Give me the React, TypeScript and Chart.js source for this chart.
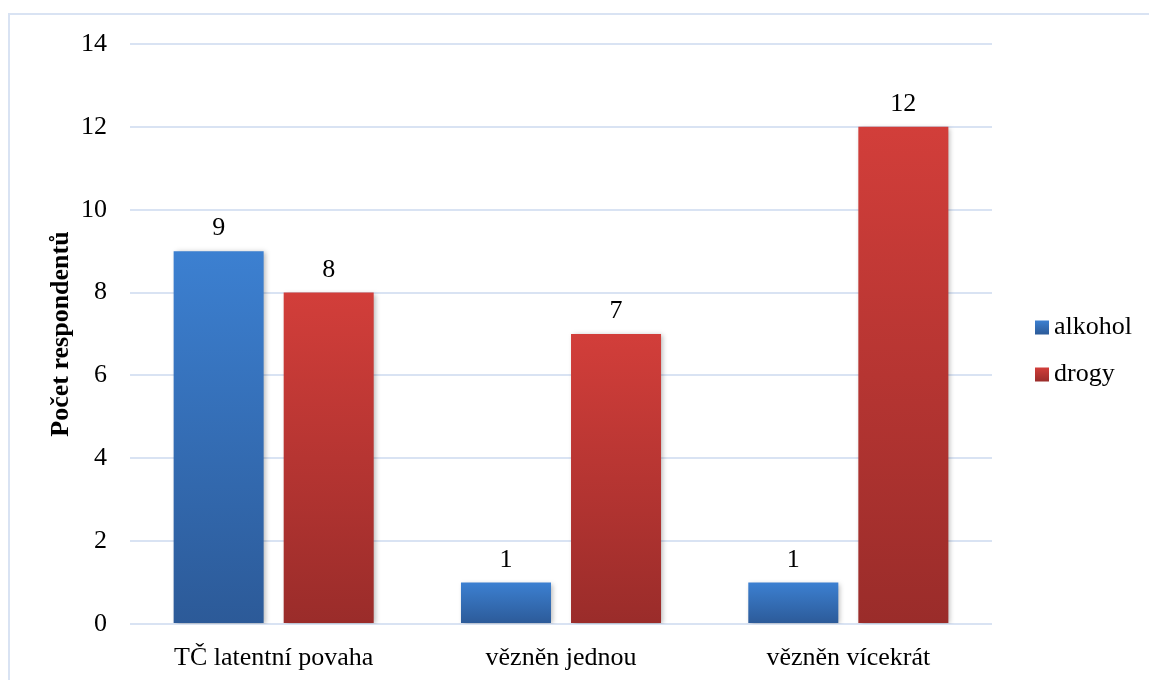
import { useEffect, useRef } from "react";
import { Chart, registerables } from "chart.js";

Chart.register(...registerables);

// Data
const categories = ["TČ latentní povaha", "vězněn jednou", "vězněn vícekrát"];
const seriesNames = ["alkohol", "drogy"];
const alkoholValues = [9, 1, 1];
const drogyValues = [8, 7, 12];
const yMin = 0;
const yMax = 14;
const yStep = 2;
const yTitle = "Počet respondentů";

// Styles
const FONT = "'Liberation Serif', 'Times New Roman', serif";
const GRID = "#d9e3f3";
const BLUE_TOP = "#3c80d1";
const BLUE_BOTTOM = "#2c5a98";
const RED_TOP = "#d23e3a";
const RED_BOTTOM = "#9a2c2a";

function barGradient(top: string, bottom: string) {
  return (ctx: any) => {
    const chart = ctx.chart;
    if (!chart.chartArea || ctx.type !== "data" || !chart.scales.y) return top;
    const y = chart.scales.y;
    const y0 = y.getPixelForValue(ctx.raw);
    const y1 = y.getPixelForValue(0);
    if (!isFinite(y0) || !isFinite(y1) || y0 === y1) return top;
    const g = chart.ctx.createLinearGradient(0, y0, 0, y1);
    g.addColorStop(0, top);
    g.addColorStop(1, bottom);
    return g;
  };
}

const frame = {
  id: "frame",
  beforeDraw(chart: any) {
    const c = chart.ctx;
    c.save();
    c.strokeStyle = GRID;
    c.lineWidth = 2;
    c.beginPath();
    c.moveTo(9, chart.height + 2);
    c.lineTo(9, 14);
    c.lineTo(chart.width + 2, 14);
    c.stroke();
    c.restore();
  },
};

const barShadow = {
  id: "barShadow",
  beforeDatasetDraw(chart: any) {
    const c = chart.ctx;
    c.save();
    c.shadowColor = "rgba(0,0,0,0.28)";
    c.shadowBlur = 5;
    c.shadowOffsetX = 2;
    c.shadowOffsetY = 1;
  },
  afterDatasetDraw(chart: any) {
    chart.ctx.restore();
  },
};

const valueLabels = {
  id: "valueLabels",
  afterDatasetsDraw(chart: any) {
    const c = chart.ctx;
    c.save();
    c.font = `26px ${FONT}`;
    c.fillStyle = "#000";
    c.textAlign = "center";
    c.textBaseline = "alphabetic";
    chart.data.datasets.forEach((ds: any, i: number) => {
      const meta = chart.getDatasetMeta(i);
      meta.data.forEach((el: any, j: number) => {
        c.fillText(String(ds.data[j]), el.x, el.y - 16);
      });
    });
    c.restore();
  },
};

const sideLegend = {
  id: "sideLegend",
  afterDraw(chart: any) {
    const c = chart.ctx;
    const area = chart.chartArea;
    const colors = [
      [BLUE_TOP, BLUE_BOTTOM],
      [RED_TOP, RED_BOTTOM],
    ];
    const x = area.right + 43;
    const mid = (area.top + area.bottom) / 2 + 17;
    const gap = 47;
    c.save();
    c.font = `26px ${FONT}`;
    c.fillStyle = "#000";
    c.textBaseline = "middle";
    c.textAlign = "left";
    chart.data.datasets.forEach((ds: any, i: number) => {
      const cy = mid + (i - (chart.data.datasets.length - 1) / 2) * gap;
      const g = c.createLinearGradient(0, cy - 7, 0, cy + 7);
      g.addColorStop(0, colors[i][0]);
      g.addColorStop(1, colors[i][1]);
      c.fillStyle = g;
      c.fillRect(x, cy - 7, 14, 14);
      c.fillStyle = "#000";
      c.fillText(ds.label, x + 19, cy);
    });
    c.restore();
  },
};

export default function App() {
  const ref = useRef<HTMLCanvasElement | null>(null);

  useEffect(() => {
    if (!ref.current) return;
    const chart = new Chart(ref.current, {
      type: "bar",
      data: {
        labels: categories,
        datasets: [
          {
            label: seriesNames[0],
            data: alkoholValues,
            backgroundColor: barGradient(BLUE_TOP, BLUE_BOTTOM),
            categoryPercentage: 0.766,
            barPercentage: 0.818,
          },
          {
            label: seriesNames[1],
            data: drogyValues,
            backgroundColor: barGradient(RED_TOP, RED_BOTTOM),
            categoryPercentage: 0.766,
            barPercentage: 0.818,
          },
        ],
      },
      options: {
        responsive: false,
        animation: false,
        layout: { padding: { left: 0, top: 44, right: 157, bottom: 0 } },
        plugins: {
          legend: { display: false },
          tooltip: { enabled: false },
        },
        scales: {
          x: {
            grid: { display: false, drawTicks: false },
            border: { display: false },
            ticks: {
              color: "#000",
              font: { family: FONT, size: 26 },
              padding: 19,
              maxRotation: 0,
            },
            afterFit(scale: any) {
              scale.height = 56;
            },
          },
          y: {
            min: yMin,
            max: yMax,
            grid: { color: GRID, lineWidth: 2, drawTicks: false },
            border: { display: false },
            ticks: {
              stepSize: yStep,
              color: "#000",
              font: { family: FONT, size: 26 },
              padding: 23,
            },
            title: {
              display: true,
              text: yTitle,
              color: "#000",
              font: { family: FONT, size: 26, weight: "bold" },
              padding: { top: 46, bottom: 0 },
            },
            afterFit(scale: any) {
              scale.width = 130;
            },
          },
        },
      },
      plugins: [frame, barShadow, valueLabels, sideLegend],
    });
    return () => chart.destroy();
  }, []);

  return (
    <canvas
      ref={ref}
      width={1149}
      height={680}
      style={{ position: "fixed", left: 0, top: 0, width: 1149, height: 680 }}
    />
  );
}
